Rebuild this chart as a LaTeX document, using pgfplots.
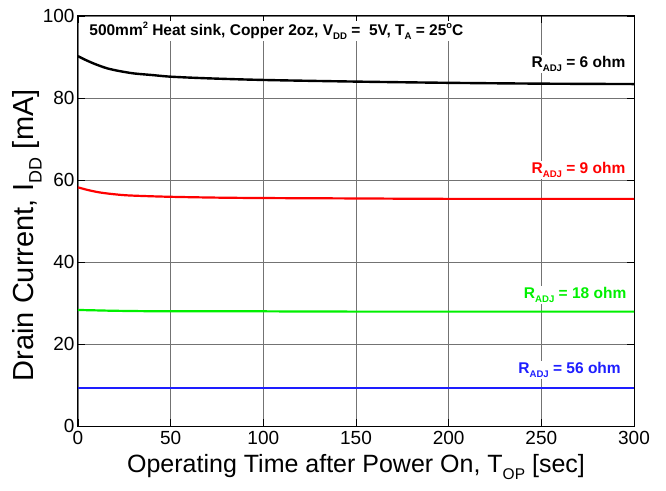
\documentclass[border=0pt]{standalone}
\usepackage{pgfplots}
\pgfplotsset{compat=1.18}
\usepackage{fontspec}
\usepackage{graphicx}
\setmainfont{Liberation Sans}
\newcommand\sub[1]{\raisebox{-0.55ex}{\scalebox{0.62}{#1}}}
\newcommand\sups[1]{\raisebox{0.8ex}{\scalebox{0.6}{#1}}}
\definecolor{cgreen}{RGB}{0,240,0}
\definecolor{cblue}{RGB}{30,30,255}
\begin{document}
\begin{tikzpicture}
\begin{axis}[
  scale only axis, width=556pt, height=410pt,
  xmin=0, xmax=300, ymin=0, ymax=100,
  xtick={0,50,...,300}, ytick={0,20,...,100},
  grid=major, grid style={black!55, line width=0.7pt},
  axis line style={black, line width=1pt},
  tick style={black, line width=0.8pt},
  tick align=inside, major tick length=7pt,
  /pgf/number format/assume math mode=true,
  ticklabel style={font=\fontsize{19}{21}\selectfont},
  xticklabel style={yshift=-2pt},
  xlabel={Operating Time after Power On, T\sub{OP} [sec]},
  ylabel={Drain Current, I\sub{DD} [mA]},
  xlabel style={font=\fontsize{25}{28}\selectfont, at={(axis description cs:0.5,-0.1)}, anchor=center},
  ylabel style={font=\fontsize{29}{32}\selectfont, at={(axis description cs:-0.092,0.465)}, anchor=center},
  clip=false,
]
\addplot[black, line width=2.4pt, smooth] coordinates {
(0,90.2) (4,89.3) (8,88.5) (12,87.8) (16,87.2) (22,86.6) (30,86.0) (40,85.6) (50,85.2) (70,84.8) (100,84.4) (150,84.0) (200,83.7) (250,83.5) (300,83.4)};
\addplot[red, line width=2.2pt, smooth] coordinates {
(0,58.2) (5,57.6) (10,57.1) (16,56.7) (25,56.3) (35,56.1) (50,55.9) (75,55.7) (100,55.6) (150,55.5) (200,55.4) (300,55.4)};
\addplot[cgreen, line width=2.2pt, smooth] coordinates {
(0,28.3) (10,28.2) (20,28.1) (40,28.0) (80,28.0) (150,27.9) (300,27.9)};
\addplot[cblue, line width=2.2pt] coordinates {(0,9.3) (300,9.3)};
\node[anchor=west, fill=white, inner sep=1pt, font=\fontsize{15.5}{17}\selectfont\bfseries] at (axis cs:5.5,96.4)
  {500mm\sups{2} Heat sink, Copper 2oz, V\sub{DD} =\ \ 5V, T\sub{A} = 25\sups{o}C};
\node[anchor=east, fill=white, inner sep=1pt, font=\fontsize{15.5}{17}\selectfont\bfseries] at (axis cs:296,88.3) {R\sub{ADJ} = 6 ohm};
\node[anchor=east, fill=white, inner sep=1pt, text=red, font=\fontsize{15.5}{17}\selectfont\bfseries] at (axis cs:296,62.4) {R\sub{ADJ} = 9 ohm};
\node[anchor=east, fill=white, inner sep=1pt, text=cgreen, font=\fontsize{15.5}{17}\selectfont\bfseries] at (axis cs:296.5,32) {R\sub{ADJ} = 18 ohm};
\node[anchor=east, fill=white, inner sep=1pt, text=cblue, font=\fontsize{15.5}{17}\selectfont\bfseries] at (axis cs:293.5,13.7) {R\sub{ADJ} = 56 ohm};
\end{axis}
\pgfresetboundingbox
\path (current axis.south west) +(-78pt,-64pt) rectangle +(588pt,426pt);
\end{tikzpicture}
\end{document}
